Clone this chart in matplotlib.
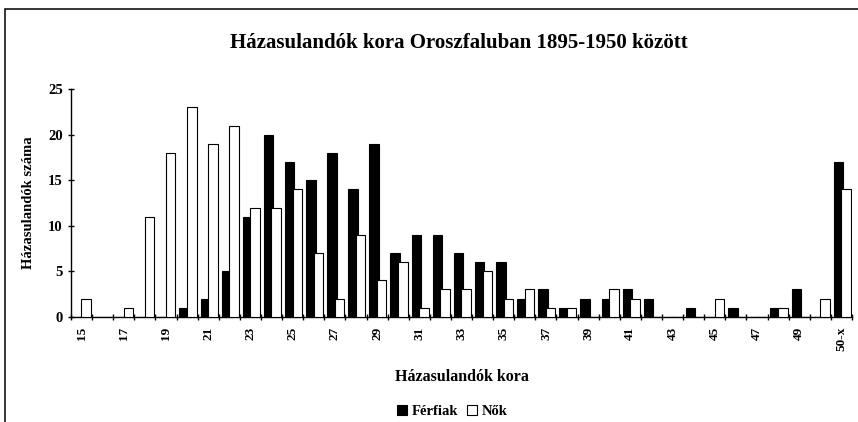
import numpy as np
import matplotlib
matplotlib.use('Agg')
import matplotlib.pyplot as plt
from matplotlib.patches import Rectangle

# age categories (only every other one gets a label)
ages = [str(a) for a in range(15, 51)] + ['50-x']
tick_labels = [a if i % 2 == 0 else '' for i, a in enumerate(ages)]
tick_labels[-1] = '50-x'

ferfiak = [0, 0, 0, 0, 0, 1, 2, 5, 11, 20, 17, 15, 18, 14, 19, 7, 9, 9, 7, 6,
           6, 2, 3, 1, 2, 2, 3, 2, 0, 1, 0, 1, 0, 1, 3, 0, 17]
nok = [2, 0, 1, 11, 18, 23, 19, 21, 12, 12, 14, 7, 2, 9, 4, 6, 1, 3, 3, 5,
       2, 3, 1, 1, 0, 3, 2, 0, 0, 0, 2, 0, 0, 1, 0, 2, 14]

plt.rcParams['font.family'] = 'Liberation Serif'
plt.rcParams['font.weight'] = 'bold'

fig = plt.figure(figsize=(8.58, 4.22), dpi=100)
ax = fig.add_axes([0.0828, 0.2495, 0.9102, 0.5389])

x = np.arange(len(ages))
w = 0.45
ax.bar(x - 0.14, ferfiak, width=w, color='black', edgecolor='black',
       linewidth=0.8, zorder=2, label='Férfiak')
ax.bar(x + 0.22, nok, width=w, color='white', edgecolor='black',
       linewidth=0.8, zorder=3, label='Nők')

ax.set_xlim(-0.5, len(ages) - 0.5)
ax.set_ylim(0, 25)
ax.set_yticks(range(0, 26, 5))
ax.set_xticks(x)
ax.set_xticklabels(tick_labels, rotation=90, fontsize=9.5, fontweight='bold')
ax.set_xticks(np.arange(len(ages) + 1) - 0.5, minor=True)
ax.tick_params(axis='x', which='major', length=0, pad=7)
ax.tick_params(axis='x', which='minor', direction='inout', length=5, width=1)
ax.tick_params(axis='y', direction='inout', length=5, width=1, labelsize=10.5)
for lab in ax.get_yticklabels():
    lab.set_fontweight('bold')

for s in ['top', 'right']:
    ax.spines[s].set_visible(False)
for s in ['left', 'bottom']:
    ax.spines[s].set_linewidth(1.0)

ax.set_ylabel('Házasulandók száma', fontsize=10.5, fontweight='bold', labelpad=9)
ax.set_xlabel('Házasulandók kora', fontsize=11.5, fontweight='bold', labelpad=13)
fig.text(0.535, 0.897, 'Házasulandók kora Oroszfaluban 1895-1950 között',
         ha='center', va='center', fontsize=15, fontweight='bold')

fig.legend(loc='center', bbox_to_anchor=(0.527, 0.025), ncol=2, frameon=False,
           fontsize=10.5, handlelength=0.7, handleheight=0.7, handletextpad=0.3,
           columnspacing=0.6, borderaxespad=0)

# chart area border (runs off the right/bottom edge)
fig.patches.append(Rectangle((5 / 858, -0.05), 1.1, 1 - 9 / 422 + 0.05,
                             transform=fig.transFigure, fill=False,
                             edgecolor='black', linewidth=1.1))

fig.savefig('out.png', dpi=100)
